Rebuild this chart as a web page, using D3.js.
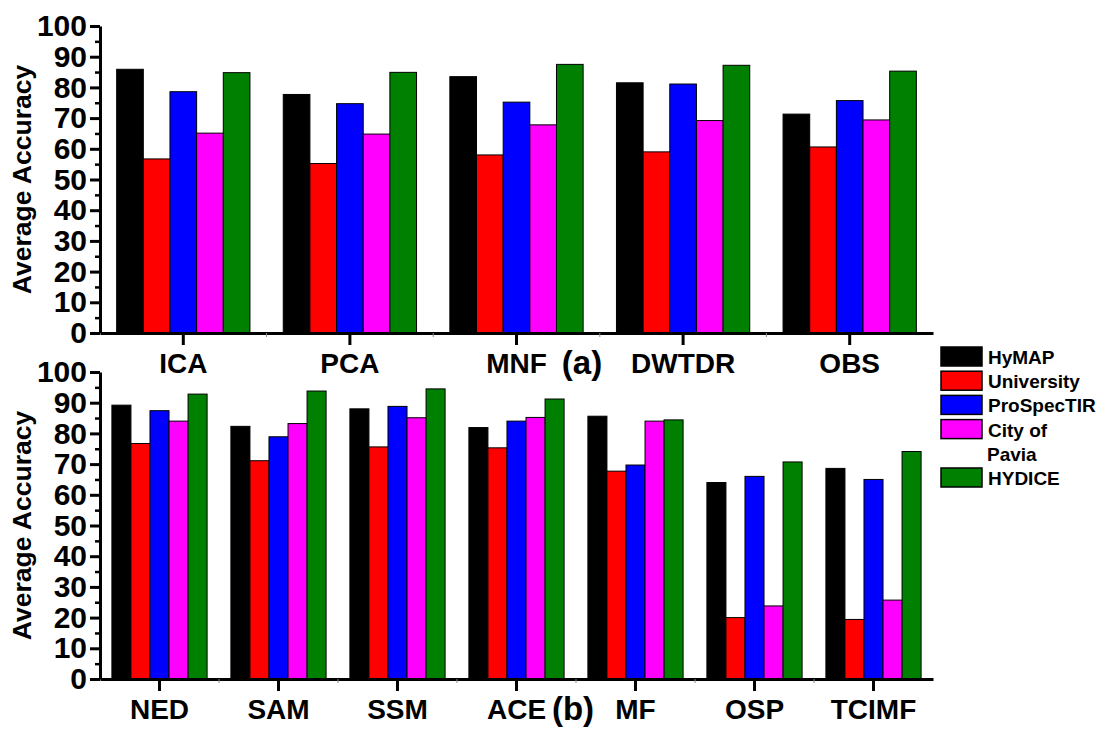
<!DOCTYPE html>
<html>
<head>
<meta charset="utf-8">
<script src="https://cdn.jsdelivr.net/npm/d3@7"></script>
<style>
  body { margin: 0; background: #fff; }
  svg { display: block; font-family: 'Liberation Sans', Arial, sans-serif; font-weight: bold; }
</style>
</head>
<body>
<div id="chart"></div>
<script>
// series shared by both panels
const seriesNames = ['HyMAP', 'University', 'ProSpecTIR', 'City of Pavia', 'HYDICE'];
const seriesColors = ['#000000', '#ff0000', '#0000ff', '#ff00ff', '#008000'];

// panel (a): dimensionality reduction
const catsA = ['ICA', 'PCA', 'MNF', 'DWTDR', 'OBS'];
const hymapA = [85.9, 77.7, 83.5, 81.5, 71.3];
const univA = [56.7, 55.2, 58.0, 59.0, 60.6];
const prospecA = [78.6, 74.7, 75.2, 81.1, 75.7];
const paviaA = [65.1, 64.8, 67.8, 69.2, 69.4];
const hydiceA = [84.8, 84.9, 87.5, 87.2, 85.3];

// panel (b): target detection
const catsB = ['NED', 'SAM', 'SSM', 'ACE', 'MF', 'OSP', 'TCIMF'];
const hymapB = [89.2, 82.3, 88.0, 81.9, 85.6, 64.0, 68.6];
const univB = [76.7, 71.1, 75.6, 75.3, 67.7, 20.0, 19.4];
const prospecB = [87.4, 78.9, 88.8, 84.0, 69.7, 66.0, 65.0];
const paviaB = [84.0, 83.2, 85.1, 85.2, 84.0, 23.8, 25.7];
const hydiceB = [92.8, 93.8, 94.5, 91.2, 84.4, 70.7, 74.1];

const yTicks = [0, 10, 20, 30, 40, 50, 60, 70, 80, 90, 100];
const yMinor = [5, 15, 25, 35, 45, 55, 65, 75, 85, 95];

const W = 1099, H = 733;
const svg = d3.select('#chart').append('svg').attr('width', W).attr('height', H);

function drawPanel(cats, values, top, bottom, tag, tagX) {
  const x0 = d3.scaleBand().domain(cats).range([100, 933]).paddingInner(0.2).paddingOuter(0.1);
  const x1 = d3.scaleBand().domain(seriesNames).range([0, x0.bandwidth()]);
  const y = d3.scaleLinear().domain([0, 100]).range([bottom, top]);

  const rows = cats.map((c, i) => ({ cat: c, vals: values.map(v => v[i]) }));

  const g = svg.append('g');
  g.selectAll('g.grp')
    .data(rows)
    .enter()
    .append('g')
      .attr('class', 'grp')
      .attr('transform', d => 'translate(' + x0(d.cat) + ',0)')
    .selectAll('rect')
    .data(d => d.vals.map((v, k) => ({ name: seriesNames[k], v: v, k: k })))
    .enter()
    .append('rect')
      .attr('x', d => x1(d.name))
      .attr('y', d => y(d.v))
      .attr('width', x1.bandwidth())
      .attr('height', d => y(0) - y(d.v))
      .attr('fill', d => seriesColors[d.k])
      .attr('stroke', '#000')
      .attr('stroke-width', 1);

  // y axis
  const yAxis = g.append('g')
    .attr('transform', 'translate(100,0)')
    .call(d3.axisLeft(y).tickValues(yTicks).tickSize(10).tickSizeOuter(0).tickPadding(3));
  yAxis.select('.domain').attr('stroke-width', 3);
  yAxis.selectAll('.tick line').attr('stroke-width', 3);
  yAxis.selectAll('.tick text').attr('font-size', 30).attr('font-weight', 'bold').attr('fill', '#000')
    .attr('font-family', "'Liberation Sans', Arial, sans-serif");

  const yMinorAxis = g.append('g')
    .attr('transform', 'translate(100,0)')
    .call(d3.axisLeft(y).tickValues(yMinor).tickSize(5).tickSizeOuter(0).tickFormat(''));
  yMinorAxis.select('.domain').remove();
  yMinorAxis.selectAll('.tick line').attr('stroke-width', 2.5);

  // x axis
  const xAxis = g.append('g')
    .attr('transform', 'translate(0,' + bottom + ')')
    .call(d3.axisBottom(x0).tickSize(12).tickSizeOuter(0));
  xAxis.select('.domain').attr('stroke-width', 3);
  xAxis.selectAll('.tick line').attr('stroke-width', 3);
  xAxis.selectAll('.tick text')
    .attr('font-size', 28).attr('font-weight', 'bold').attr('fill', '#000')
    .attr('font-family', "'Liberation Sans', Arial, sans-serif")
    .attr('y', 40).attr('dy', 0);

  // small ticks between categories
  const minorX = d3.range(1, cats.length).map(i => x0.range()[0] + i * x0.step());
  g.selectAll('line.mx')
    .data(minorX)
    .enter()
    .append('line')
      .attr('x1', d => d).attr('x2', d => d)
      .attr('y1', bottom).attr('y2', bottom + 4)
      .attr('stroke', '#888').attr('stroke-width', 1);

  // axis title
  g.append('text')
    .attr('transform', 'translate(31,' + (top + bottom) / 2 + ') rotate(-90)')
    .attr('text-anchor', 'middle')
    .attr('font-size', 26.5)
    .text('Average Accuracy');

  g.append('text')
    .attr('x', tagX)
    .attr('y', bottom + 41)
    .attr('text-anchor', 'middle')
    .attr('font-size', 33)
    .text(tag);
}

drawPanel(catsA, [hymapA, univA, prospecA, paviaA, hydiceA], 26, 333, '(a)', 582);
drawPanel(catsB, [hymapB, univB, prospecB, paviaB, hydiceB], 372, 679, '(b)', 573);

// legend
const legendRows = [0, 1, 2, 3, 5];
const legend = svg.append('g').attr('transform', 'translate(941,347)');
const items = legend.selectAll('g')
  .data(seriesNames)
  .enter()
  .append('g')
    .attr('transform', (d, i) => 'translate(0,' + legendRows[i] * 24.2 + ')');
items.append('rect')
  .attr('width', 41).attr('height', 19)
  .attr('fill', (d, i) => seriesColors[i])
  .attr('stroke', '#000').attr('stroke-width', 1.5);
items.append('text')
  .attr('x', 47)
  .attr('font-size', 19)
  .selectAll('tspan')
  .data(d => d === 'City of Pavia' ? ['City of', 'Pavia'] : [d])
  .enter()
  .append('tspan')
    .attr('x', (d, i) => i === 0 ? 47 : 46)
    .attr('y', (d, i) => 17 + i * 24)
    .text(d => d);
</script>
</body>
</html>
